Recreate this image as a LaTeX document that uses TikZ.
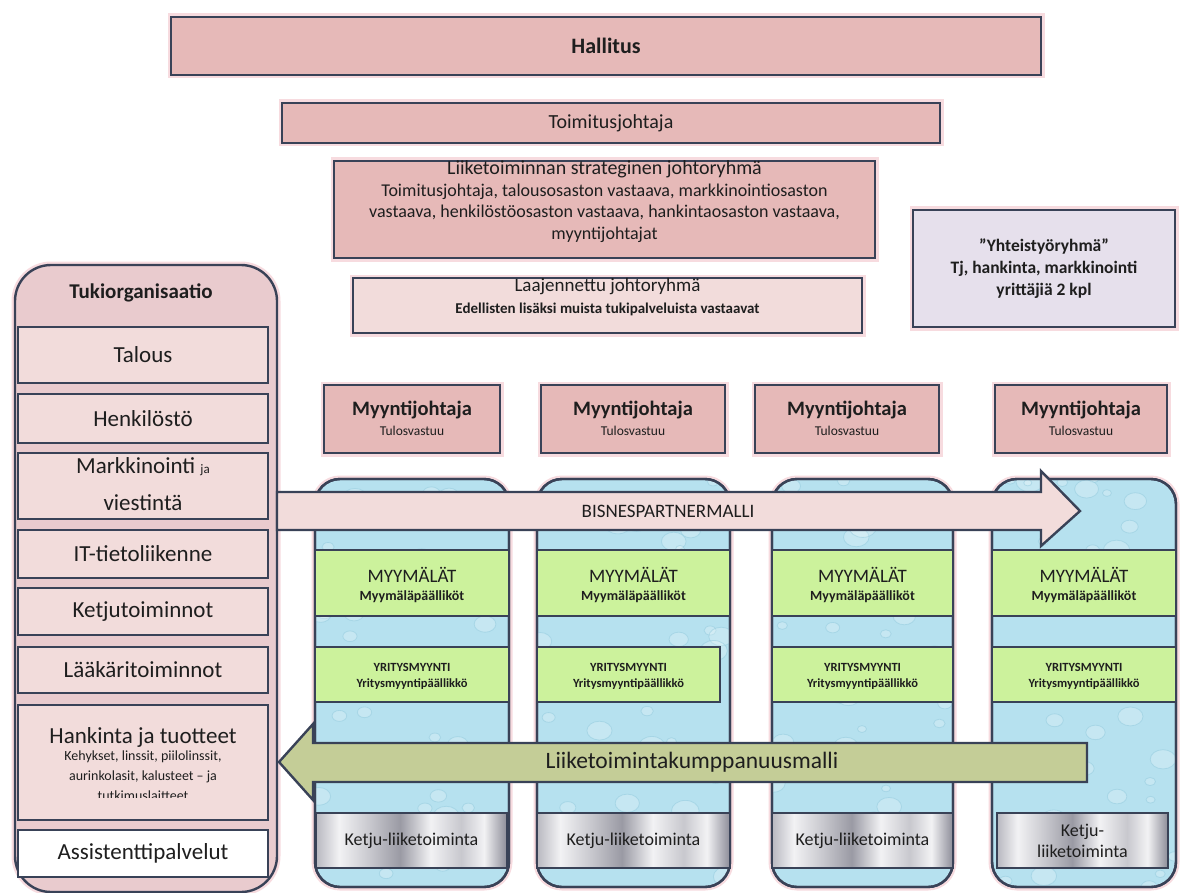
\documentclass[tikz,border=0pt]{standalone}
\usepackage{fontspec}
\setmainfont{Carlito}
\usetikzlibrary{calc}

\definecolor{edge}{HTML}{394257}
\definecolor{rose}{HTML}{E6B9B8}
\definecolor{blush}{HTML}{F2DCDB}
\definecolor{tuki}{HTML}{E9CBCE}
\definecolor{lilac}{HTML}{E6E0EC}
\definecolor{lime}{HTML}{CCF29C}
\definecolor{water}{HTML}{B6E1EF}
\definecolor{dropline}{HTML}{8CC6DA}
\definecolor{olive}{HTML}{C4CD97}
\definecolor{glow}{HTML}{F2C4CB}
\definecolor{ink}{HTML}{1E1E1E}
\definecolor{chE}{HTML}{B8B8C0}
\definecolor{chL}{HTML}{F2F2F4}
\definecolor{chM}{HTML}{C8C8CE}
\definecolor{chD}{HTML}{9A9AA4}
\definecolor{chR}{HTML}{8C8C98}

% metallic band used for the chain-business boxes
\pgfdeclarehorizontalshading{chrome}{100bp}{color(0bp)=(chE); color(25bp)=(chE);
  color(31bp)=(chL); color(39bp)=(chM); color(47bp)=(chD); color(55bp)=(chL);
  color(63bp)=(chM); color(69bp)=(chL); color(75bp)=(chR); color(100bp)=(chR)}

\newcommand\fz[2]{\fontsize{#1}{#2}\selectfont}

\begin{document}
\begin{tikzpicture}[x=1pt, y=-1pt,
  every node/.style={inner sep=0pt, outer sep=0pt, text=ink, align=center},
  wh/.style 2 args={minimum width=#1, minimum height=#2},
  glowing/.style={preaction={draw=glow, line width=7pt, opacity=0.6}},
  framed/.style={draw=edge, line width=2.4pt},
  pinkbox/.style={framed, fill=rose, glowing},
  lightbox/.style={framed, fill=blush, glowing},
  supbox/.style={framed, fill=blush},
  colbox/.style={framed, fill=water, rounded corners=25pt, glowing},
  greenbox/.style={framed, fill=lime},
  chainbox/.style={framed, shading=chrome},
  blockarrow/.style={draw=edge, line width=2.4pt, line join=miter}
]
\useasboundingbox[fill=white] (0,0) rectangle (1182,893);

% ---------------- support organisation (left column)
\node[framed, fill=tuki, rounded corners=36pt, glowing, wh={262pt}{627pt}] (tuki) at (146,578.5) {};
\node[font=\bfseries\fz{21}{25}] (tukiT) at (141,293) {Tukiorganisaatio};

\foreach \n/\cy/\h/\t in {talous/355/56/Talous, henk/418.5/49/Henkilöstö,
    it/554/48/IT-tietoliikenne, ketjut/611.5/47/Ketjutoiminnot,
    laak/670/46/Lääkäritoiminnot}
  \node[supbox, wh={250pt}{\h pt}, font=\fz{23}{27}] (\n) at (143,\cy) {\t};

\node[supbox, wh={250pt}{66pt}] (mark) at (143,486) {};
\node[font=\fz{23}{27}] (markA) at (143,467) {Markkinointi {\fz{13}{15}ja}};
\node[font=\fz{23}{27}] (markB) at (143,503) {viestintä};

\node[supbox, wh={250pt}{115pt}] (hank) at (143,762.5) {};
\node[font=\fz{23}{27}] (hankT) at (143,737) {Hankinta ja tuotteet};
\begin{scope}
  \clip (18,705) rectangle (268,797);
  \node[font=\fz{14}{20}] (hankB) at (143,776) {Kehykset, linssit, piilolinssit,\\aurinkolasit, kalusteet – ja\\tutkimuslaitteet};
\end{scope}

\node[framed, fill=white, wh={250pt}{47pt}, font=\fz{23}{27}] (assi) at (143,853.5) {Assistenttipalvelut};

% ---------------- sales columns
\pgfmathsetseed{11}
\foreach \i/\cx/\w/\yx/\yw/\kx/\kw/\kt in {
    1/412/194/412/194/411.5/191/{Ketju-liiketoiminta},
    2/633.5/193/628.5/183/633.5/193/{Ketju-liiketoiminta},
    3/862.5/181/862.5/181/862.5/181/{Ketju-liiketoiminta},
    4/1084/184/1084/184/1082.5/171/{Ketju-\\liiketoiminta}}{
  \node[colbox, wh={\w pt}{408pt}] (col\i) at (\cx,683) {};
  \begin{scope}
    \clip[rounded corners=25pt] (col\i.south west) rectangle (col\i.north east);
    \foreach \k in {1,...,40}{
      \pgfmathsetmacro\px{\cx-\w/2+rnd*\w}
      \pgfmathsetmacro\py{479+rnd*408}
      \pgfmathsetmacro\rr{4+rnd*10}
      \fill[white, opacity=0.22] (\px,\py) ellipse [x radius=\rr, y radius=0.75*\rr];
      \draw[dropline, opacity=0.45, line width=0.8pt] (\px,\py) ellipse [x radius=\rr, y radius=0.75*\rr];
    }
  \end{scope}
  \draw[framed, rounded corners=25pt] (col\i.south west) rectangle (col\i.north east);

  \node[greenbox, wh={\w pt}{66pt}] (shop\i) at (\cx,583) {};
  \node[font=\fz{19}{22}] (shopA\i) at (\cx,575) {MYYMÄLÄT};
  \node[font=\bfseries\fz{14}{16}] (shopB\i) at (\cx,597) {Myymäläpäälliköt};

  \node[greenbox, wh={\yw pt}{55pt}] (corp\i) at (\yx,674.5) {};
  \node[font=\bfseries\fz{12.5}{15}] (corpA\i) at (\yx,667) {YRITYSMYYNTI};
  \node[font=\bfseries\fz{12.5}{15}] (corpB\i) at (\yx,684) {Yritysmyyntipäällikkö};

  \node[chainbox, wh={\kw pt}{55pt}, font=\fz{18}{21}] (chain\i) at (\kx,840.5) {\kt};
}

% ---------------- sales directors
\foreach \i/\cx/\w in {1/412/176, 2/633/184, 3/847/184, 4/1081/172}{
  \node[pinkbox, wh={\w pt}{68pt}] (mj\i) at (\cx,419) {};
  \node[font=\bfseries\fz{20.5}{24}] (mjA\i) at (\cx,410) {Myyntijohtaja};
  \node[font=\fz{13.5}{16}] (mjB\i) at (\cx,431) {Tulosvastuu};
}

% ---------------- partnership arrows
\filldraw[blockarrow, fill=blush] (277,492) -- (1041,492) -- (1041,471) -- (1080,511)
  -- (1041,546) -- (1041,530) -- (277,530) -- cycle;
\node[font=\fz{19}{22}] (bisT) at (668,511) {BISNESPARTNERMALLI};

\filldraw[blockarrow, fill=olive] (1087,743) -- (313,743) -- (313,724) -- (279,762)
  -- (313,800) -- (313,782) -- (1087,782) -- cycle;
\node[font=\fz{23.5}{27}] (liikT) at (692,762) {Liiketoimintakumppanuusmalli};

% ---------------- management levels
\node[pinkbox, wh={870pt}{58pt}, font=\bfseries\fz{22}{26}] (hallitus) at (606,46) {Hallitus};
\node[pinkbox, wh={658pt}{40pt}, font=\fz{20}{24}] (tj) at (611,123) {Toimitusjohtaja};

\node[pinkbox, wh={541pt}{97pt}] (strat) at (604.5,209.5) {};
\node[font=\fz{20}{24}] (stratT) at (604.5,169) {Liiketoiminnan strateginen johtoryhmä};
\node[font=\fz{18}{21.5}] (stratB) at (604.5,213) {Toimitusjohtaja, talousosaston vastaava, markkinointiosaston\\vastaava, henkilöstöosaston vastaava, hankintaosaston vastaava,\\myyntijohtajat};

\node[lightbox, wh={509pt}{55pt}] (laaj) at (607.5,305.5) {};
\node[font=\fz{19}{22}] (laajT) at (607.5,287) {Laajennettu johtoryhmä};
\node[font=\bfseries\fz{15}{18}] (laajB) at (607.5,309) {Edellisten lisäksi muista tukipalveluista vastaavat};

\node[framed, fill=lilac, glowing, wh={262pt}{117pt}, font=\bfseries\fz{17.5}{22}] (yht) at (1044,268.5)
  {”Yhteistyöryhmä”\\Tj, hankinta, markkinointi\\yrittäjiä 2 kpl};
\end{tikzpicture}
\end{document}
